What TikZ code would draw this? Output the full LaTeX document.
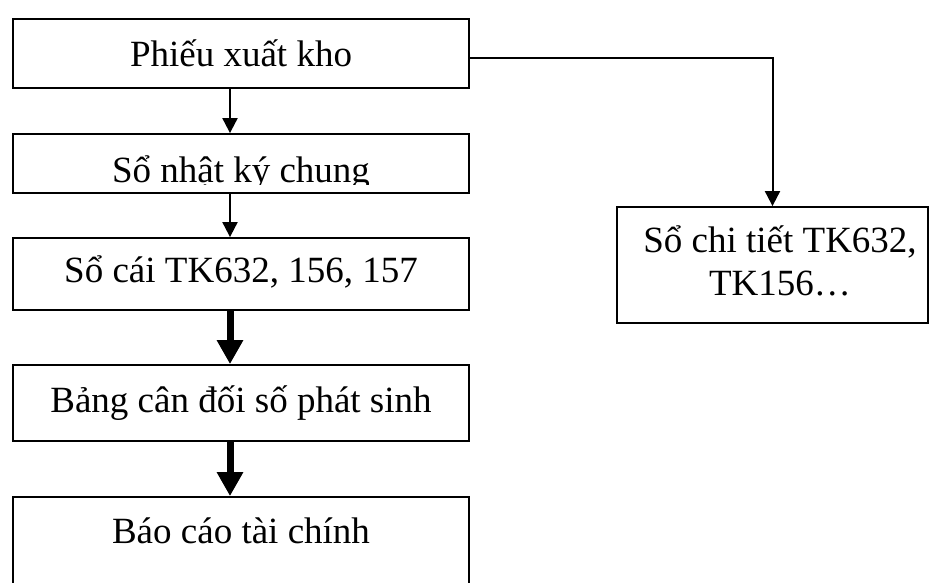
\documentclass[tikz,border=0pt]{standalone}
\usepackage{fontspec}
\setmainfont{Liberation Serif}
\usetikzlibrary{arrows.meta}
\begin{document}
\begin{tikzpicture}[x=1pt,y=-1pt,
  box/.style={draw, line width=1.8pt, inner sep=0pt, minimum width=456pt},
  txt/.style={font=\fontsize{37}{43}\selectfont, anchor=base, inner sep=0pt},
  thinarrow/.style={line width=2pt, -{Triangle[length=15pt,width=15pt]}},
  thickarrow/.style={line width=7pt, -{Triangle[length=24pt,width=25pt]}}]
% page area
\clip (0,0) rectangle (930,583);
\fill[white] (0,0) rectangle (930,583);

% boxes of the main chain
\node[box, minimum height=69pt] (b1) at (241,53.5) {};
\node[box, minimum height=59pt] (b2) at (241,163.5) {};
\node[box, minimum height=72pt] (b3) at (241,274) {};
\node[box, minimum height=76pt] (b4) at (241,403) {};
\node[box, minimum height=123pt] (b5) at (241,558.5) {};
% detail ledger box
\node[box, minimum width=311pt, minimum height=116pt] (rb) at (772.5,265) {};

% labels
\node[txt] (t1) at (241,67) {Phiếu xuất kho};
\begin{scope}
  \clip (13,134) rectangle (469,185);
  \node[txt] (t2) at (241,183) {Sổ nhật ký chung};
\end{scope}
\node[txt] (t3) at (241,283) {Sổ cái TK632, 156, 157};
\node[txt] (t4) at (241,412) {Bảng cân đối số phát sinh};
\node[txt] (t5) at (241,543) {Báo cáo tài chính};
\node[txt] (t6) at (780,252) {Sổ chi tiết TK632,};
\node[txt] (t7) at (780,295) {TK156…};

% connectors
\coordinate (ax) at (230,0);
\draw[thinarrow] (b1.south -| ax) -- (b2.north -| ax);
\draw[thinarrow] (b2.south -| ax) -- (b3.north -| ax);
\draw[thickarrow] (b3.south -| ax) -- (b4.north -| ax);
\draw[thickarrow] (b4.south -| ax) -- (b5.north -| ax);
\draw[thinarrow] ([yshift=-4.5pt]b1.east) -| (rb.north);
\end{tikzpicture}
\end{document}
